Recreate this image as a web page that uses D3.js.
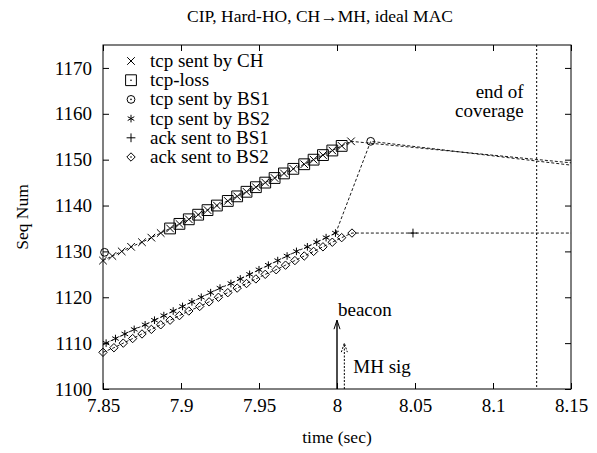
<!DOCTYPE html>
<html>
<head>
<meta charset="utf-8">
<script src="https://cdn.jsdelivr.net/npm/d3@7"></script>
<style>
body { margin: 0; background: #fff; }
text { font-family: "Liberation Serif", "Times New Roman", serif; fill: #000; }
</style>
</head>
<body>
<div id="chart"></div>
<script>
// tick labels
var xTicks = [7.85, 7.9, 7.95, 8.0, 8.05, 8.1, 8.15];
var yTicks = [1100, 1110, 1120, 1130, 1140, 1150, 1160, 1170];

// tcp sent by CH
var chTime = [7.850, 7.856, 7.862, 7.868, 7.875, 7.881, 7.887, 7.893, 7.899, 7.905, 7.911, 7.917, 7.923, 7.930,
              7.936, 7.942, 7.948, 7.954, 7.960, 7.966, 7.972, 7.979, 7.985, 7.991, 7.997, 8.003, 8.009];
var chSeq = [1128, 1129, 1130, 1131, 1132, 1133, 1134, 1135, 1136, 1137, 1138, 1139, 1140, 1141,
             1142, 1143, 1144, 1145, 1146, 1147, 1148, 1149, 1150, 1151, 1152, 1153, 1154];
// tcp-loss
var lossTime = [7.893, 7.899, 7.905, 7.911, 7.917, 7.923, 7.930, 7.936, 7.942, 7.948, 7.954, 7.960, 7.966,
                7.972, 7.979, 7.985, 7.991, 7.997, 8.003];
var lossSeq = [1135, 1136, 1137, 1138, 1139, 1140, 1141, 1142, 1143, 1144, 1145, 1146, 1147,
               1148, 1149, 1150, 1151, 1152, 1153];
// tcp sent by BS1
var bs1Time = [7.851, 8.0216];
var bs1Seq = [1129.8, 1154];
// tcp sent by BS2
var bs2Time = [7.852, 7.858, 7.864, 7.870, 7.877, 7.883, 7.889, 7.895, 7.901, 7.907, 7.913, 7.919, 7.925,
               7.932, 7.938, 7.944, 7.950, 7.956, 7.962, 7.968, 7.974, 7.981, 7.987, 7.993, 7.999];
var bs2Seq = [1110, 1111, 1112, 1113, 1114, 1115, 1116, 1117, 1118, 1119, 1120, 1121, 1122,
              1123, 1124, 1125, 1126, 1127, 1128, 1129, 1130, 1131, 1132, 1133, 1134];
// ack sent to BS1
var ack1Time = [8.0487];
var ack1Seq = [1134];
// ack sent to BS2
var ack2Time = [7.850, 7.857, 7.863, 7.869, 7.875, 7.881, 7.887, 7.893, 7.899, 7.905, 7.912, 7.918, 7.924, 7.930,
                7.936, 7.942, 7.948, 7.954, 7.961, 7.967, 7.973, 7.979, 7.985, 7.991, 7.997, 8.003, 8.0096];
var ack2Seq = [1108, 1109, 1110, 1111, 1112, 1113, 1114, 1115, 1116, 1117, 1118, 1119, 1120, 1121,
               1122, 1123, 1124, 1125, 1126, 1127, 1128, 1129, 1130, 1131, 1132, 1133, 1134];

// where the dashed lines run on past the right edge
var chTailTime = [8.40], chTailSeq = [1141];
var bs1LineTime = [7.9992, 8.0216, 8.40], bs1LineSeq = [1134, 1154, 1138.7];
var ackTailTime = [8.40], ackTailSeq = [1134];

// events
var beaconTime = 8.0, beaconSeq = 1115;
var mhSigTime = 8.0047, mhSigSeq = 1110;
var coverageEnd = 8.128;

var W = 597, H = 453;
var pL = 103, pR = 571, pT = 45, pB = 389;

var svg = d3.select("#chart").append("svg").attr("width", W).attr("height", H);

var x = d3.scaleLinear().domain([7.85, 8.15]).range([pL, pR]);
var y = d3.scaleLinear().domain([1100, 1175]).range([pB, pT]);

function zip(t, s) { return t.map(function (d, i) { return [d, s[i]]; }); }

svg.append("defs").append("clipPath").attr("id", "plotClip")
    .append("rect").attr("x", pL).attr("y", pT).attr("width", pR - pL).attr("height", pB - pT);

// title
svg.append("text").attr("x", 320).attr("y", 22).attr("text-anchor", "middle")
    .style("font-size", "17.5px").text("CIP, Hard-HO, CH\u2192MH, ideal MAC");

// axes: ticks inside, mirrored
var axB = d3.axisBottom(x).tickValues(xTicks).tickSize(-6).tickPadding(10).tickFormat(function (d) { return String(+d.toFixed(2)); });
var axT = d3.axisTop(x).tickValues(xTicks).tickSize(-6).tickFormat("");
var axL = d3.axisLeft(y).tickValues(yTicks).tickSize(-6).tickPadding(11).tickFormat(d3.format("d"));
var axR = d3.axisRight(y).tickValues(yTicks).tickSize(-6).tickFormat("");

function styleAxis(g) {
    g.attr("font-family", null).attr("font-size", null);
    g.select(".domain").remove();
    g.selectAll(".tick line").attr("stroke", "#000");
    g.selectAll(".tick text").style("font-size", "19px").style("font-family", "Liberation Serif");
}
svg.append("g").attr("transform", "translate(0," + pB + ")").call(axB).call(styleAxis);
svg.append("g").attr("transform", "translate(0," + pT + ")").call(axT).call(styleAxis);
svg.append("g").attr("transform", "translate(" + pL + ",0)").call(axL).call(styleAxis);
svg.append("g").attr("transform", "translate(" + pR + ",0)").call(axR).call(styleAxis);

svg.append("rect").attr("x", pL).attr("y", pT).attr("width", pR - pL).attr("height", pB - pT)
    .attr("fill", "none").attr("stroke", "#000").attr("stroke-width", 1);

// axis titles
svg.append("text").attr("x", (pL + pR) / 2).attr("y", 443).attr("text-anchor", "middle")
    .style("font-size", "17.5px").text("time (sec)");
svg.append("text").attr("transform", "translate(28," + (pT + pB) / 2 + ") rotate(-90)")
    .attr("text-anchor", "middle").style("font-size", "17.5px").text("Seq Num");

var plot = svg.append("g").attr("clip-path", "url(#plotClip)");
var line = d3.line().x(function (d) { return x(d[0]); }).y(function (d) { return y(d[1]); });

// dashed connecting lines
var dashedLines = [
    zip(chTime, chSeq).concat(zip(chTailTime, chTailSeq)),
    zip(bs1LineTime, bs1LineSeq),
    zip(bs2Time, bs2Seq),
    zip(ack2Time, ack2Seq).concat(zip(ack1Time, ack1Seq)).concat(zip(ackTailTime, ackTailSeq))
];
plot.selectAll("path.series").data(dashedLines).enter().append("path")
    .attr("class", "series")
    .attr("d", line).attr("fill", "none").attr("stroke", "#000")
    .attr("stroke-width", 0.9).attr("stroke-dasharray", "3,2");

// end of coverage
plot.append("line").attr("x1", x(coverageEnd)).attr("x2", x(coverageEnd)).attr("y1", pT).attr("y2", pB)
    .attr("stroke", "#000").attr("stroke-width", 1).attr("stroke-dasharray", "2,2");
svg.append("text").attr("x", x(coverageEnd) - 13).attr("y", 98).attr("text-anchor", "end")
    .style("font-size", "19px").text("end of");
svg.append("text").attr("x", x(coverageEnd) - 13).attr("y", 117).attr("text-anchor", "end")
    .style("font-size", "19px").text("coverage");

// beacon & MH sig arrows
function arrow(t, s, dash, w) {
    var g = plot.append("g");
    g.append("line").attr("x1", x(t)).attr("x2", x(t)).attr("y1", pB).attr("y2", y(s))
        .attr("stroke", "#000").attr("stroke-width", w).attr("stroke-dasharray", dash);
    g.append("path").attr("d", "M" + (x(t) - 3) + "," + (y(s) + 9) + " L" + x(t) + "," + y(s) + " L" + (x(t) + 3) + "," + (y(s) + 9))
        .attr("fill", "none").attr("stroke", "#000").attr("stroke-width", 1).attr("stroke-dasharray", dash);
}
arrow(beaconTime, beaconSeq, null, 1.4);
arrow(mhSigTime, mhSigSeq, "2,1.5", 1);
svg.append("text").attr("x", x(beaconTime) + 1).attr("y", y(beaconSeq) - 4).style("font-size", "19px").text("beacon");
svg.append("text").attr("x", x(mhSigTime) + 9).attr("y", 373).style("font-size", "19px").text("MH sig");

// symbols
var sym = {
    cross: function (s) { return "M" + -s + "," + -s + "L" + s + "," + s + "M" + -s + "," + s + "L" + s + "," + -s; },
    plus: function (s) { return "M" + -s + ",0L" + s + ",0M0," + -s + "L0," + s; },
    square: function (s) { return "M" + -s + "," + -s + "H" + s + "V" + s + "H" + -s + "Z"; },
    diamond: function (s) { return "M0," + -s + "L" + s + ",0L0," + s + "L" + -s + ",0Z"; },
    star: function (s) {
        var a = s * 0.87, b = s * 0.5;
        return "M0," + -s + "L0," + s + "M" + -a + "," + -b + "L" + a + "," + b + "M" + -a + "," + b + "L" + a + "," + -b;
    }
};
function drawMarker(g, type, cx, cy, legend) {
    var st = function (sel) { return sel.attr("fill", "none").attr("stroke", "#000").attr("stroke-width", 1); };
    if (type === "cross") st(g.append("path").attr("d", sym.cross(3.8)));
    if (type === "plus") st(g.append("path").attr("d", sym.plus(4.4)));
    if (type === "square") st(g.append("path").attr("d", sym.square(5.4)));
    if (type === "diamond") st(g.append("path").attr("d", sym.diamond(4.2)));
    if (type === "star") st(g.append("path").attr("d", sym.star(3.8)).attr("stroke-width", 1.3));
    if (type === "circle") st(g.append("circle").attr("r", 3.9));
    if (legend && (type === "square" || type === "circle" || type === "diamond"))
        g.append("circle").attr("r", 0.8).attr("fill", "#000");
    g.attr("transform", "translate(" + cx + "," + cy + ")");
}

var series = [
    { name: "tcp sent by CH", type: "cross", t: chTime, s: chSeq },
    { name: "tcp-loss", type: "square", t: lossTime, s: lossSeq },
    { name: "tcp sent by BS1", type: "circle", t: bs1Time, s: bs1Seq },
    { name: "tcp sent by BS2", type: "star", t: bs2Time, s: bs2Seq },
    { name: "ack sent to BS1", type: "plus", t: ack1Time, s: ack1Seq },
    { name: "ack sent to BS2", type: "diamond", t: ack2Time, s: ack2Seq }
];

var marks = svg.append("g");
series.forEach(function (sr) {
    zip(sr.t, sr.s).forEach(function (p) {
        drawMarker(marks.append("g"), sr.type, x(p[0]), y(p[1]), false);
    });
});

// legend
var legend = svg.append("g");
series.forEach(function (sr, i) {
    var yy = 61 + i * 19.2;
    drawMarker(legend.append("g"), sr.type, 131, yy, true);
    legend.append("text").attr("x", 150).attr("y", yy + 6).style("font-size", "19px").text(sr.name);
});
</script>
</body>
</html>
